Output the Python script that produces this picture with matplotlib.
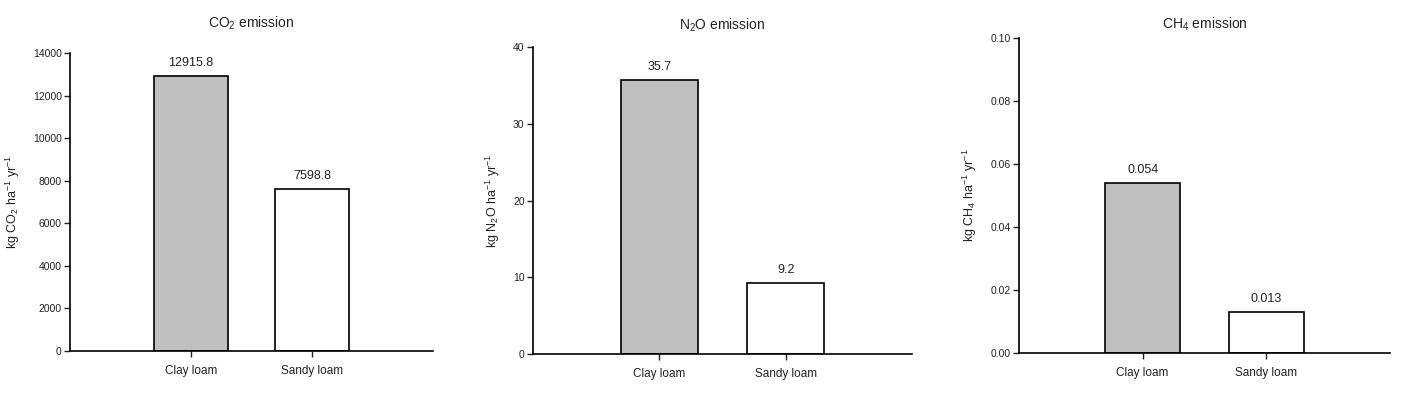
import matplotlib
matplotlib.use("Agg")
import matplotlib.pyplot as plt
from matplotlib.ticker import FormatStrFormatter

plt.rcParams['font.family'] = ['Liberation Sans', 'DejaVu Sans']
plt.rcParams['mathtext.fontset'] = 'custom'
plt.rcParams['mathtext.rm'] = 'Liberation Sans'
plt.rcParams['mathtext.it'] = 'Liberation Sans'
plt.rcParams['mathtext.default'] = 'regular'

soils = ["Clay loam", "Sandy loam"]
co2 = [12915.8, 7598.8]
n2o = [35.7, 9.2]
ch4 = [0.054, 0.013]
co2_labels = ["12915.8", "7598.8"]
n2o_labels = ["35.7", "9.2"]
ch4_labels = ["0.054", "0.013"]

bar_colors = ["#c0c0c0", "white"]

panels = [
  # values, labels, title, ylabel, yticks, fmt, axes rect, ylabel x, title pad
  (co2, co2_labels, "CO$_2$ emission", "kg CO$_2$ ha$^{-1}$ yr$^{-1}$",
   range(0, 14001, 2000), "%d", [0.0499, 0.1203, 0.2585, 0.747], -0.132, 18),
  (n2o, n2o_labels, "N$_2$O emission", "kg N$_2$O ha$^{-1}$ yr$^{-1}$",
   range(0, 41, 10), "%d", [0.3796, 0.1128, 0.270, 0.769], -0.082, 13),
  (ch4, ch4_labels, "CH$_4$ emission", "kg CH$_4$ ha$^{-1}$ yr$^{-1}$",
   [0.0, 0.02, 0.04, 0.06, 0.08, 0.10], "%.2f", [0.7258, 0.1153, 0.2642, 0.789], -0.108, 7),
]

fig = plt.figure(figsize=(14.04, 3.99), dpi=100)

for vals, labs, title, ylab, yt, fmt, rect, ylx, tpad in panels:
  ax = fig.add_axes(rect)
  x = range(len(soils))
  ax.bar(x, vals, width=0.61, color=bar_colors, edgecolor="black", linewidth=1.2)
  for xi, v, t in zip(x, vals, labs):
    ax.annotate(t, (xi, v), xytext=(0, 5), textcoords="offset points",
                ha="center", va="bottom", fontsize=9, color="#222222")
  ax.set_xlim(-1, 2)
  yt = list(yt)
  ax.set_ylim(0, yt[-1])
  ax.set_yticks(yt)
  ax.yaxis.set_major_formatter(FormatStrFormatter(fmt))
  ax.set_xticks(list(x))
  ax.set_xticklabels(soils)
  for s in ("top", "right"):
    ax.spines[s].set_visible(False)
  for s in ("left", "bottom"):
    ax.spines[s].set_linewidth(1.2)
  ax.tick_params(axis="y", labelsize=7.5, length=4, width=1, colors="#222222", pad=2)
  ax.tick_params(axis="x", labelsize=8.5, length=4, width=1, colors="#222222", pad=6)
  ax.set_ylabel(ylab, fontsize=9, color="#222222")
  ax.yaxis.set_label_coords(ylx, 0.5)
  ax.set_title(title, fontsize=10, pad=tpad, color="#222222")

fig.savefig("out.png", dpi=100)
